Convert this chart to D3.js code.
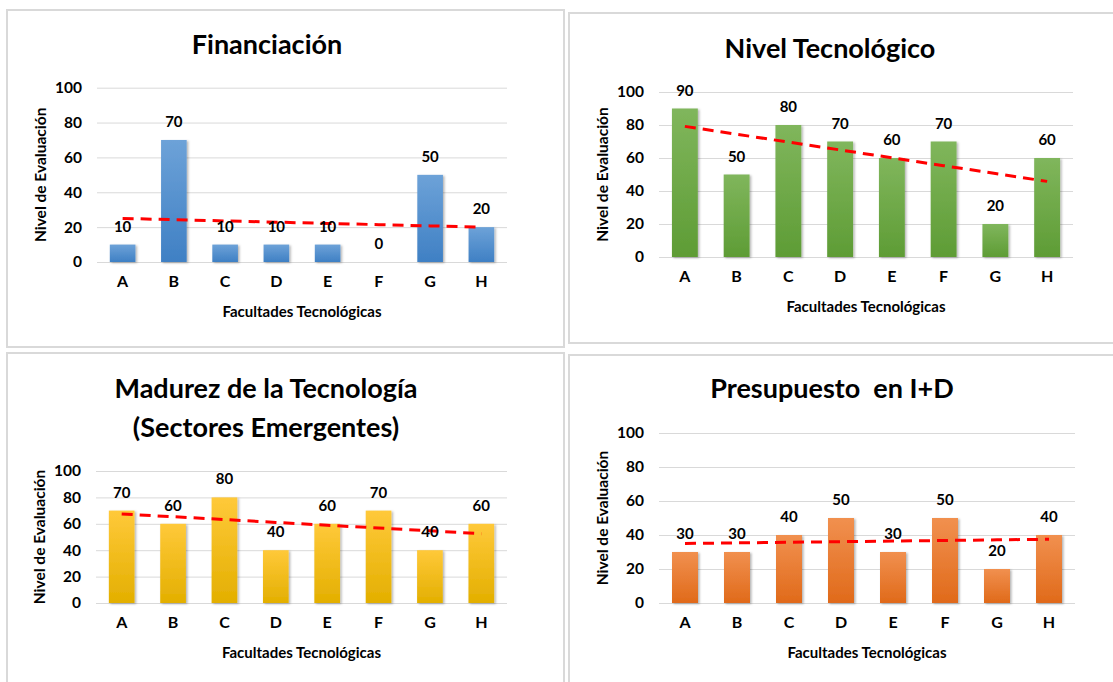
<!DOCTYPE html>
<html lang="es">
<head>
<meta charset="UTF-8">
<title>Facultades Tecnológicas</title>
<script src="https://cdn.jsdelivr.net/npm/d3@7"></script>
<style>
  body { margin: 0; background: #fff; }
  svg { display: block; font-family: Lato, "Open Sans", sans-serif; }
  .grid line { stroke: #d9d9d9; stroke-width: 1px; }
  .trend { fill: none; stroke: #ff0000; stroke-width: 3px; stroke-dasharray: 11 7; }
  .box { fill: #fff; stroke: #d9d9d9; stroke-width: 2px; }
</style>
</head>
<body>
<svg id="main" width="1113" height="682"></svg>
<script>
// data
var categories = ["A", "B", "C", "D", "E", "F", "G", "H"];
var yTicks = [0, 20, 40, 60, 80, 100];

var financiacion   = [10, 70, 10, 10, 10, 0, 50, 20];
var nivelTecno     = [90, 50, 80, 70, 60, 70, 20, 60];
var madurez        = [70, 60, 80, 40, 60, 70, 40, 60];
var presupuesto    = [30, 30, 40, 50, 30, 50, 20, 40];

var xTitle = "Facultades Tecnológicas";
var yTitle = "Nivel de Evaluación";

// layout of the four panels
var panels = [
  { title: ["Financiación"], values: financiacion, colors: ["#6da2d8", "#3f80c4"],
    box: [7, 10, 557, 337], plot: {l: 97, r: 507, t: 87.7, b: 262}, tx: 267, ty: 54 },
  { title: ["Nivel Tecnológico"], values: nivelTecno, colors: ["#80b65c", "#5e9c35"],
    box: [569, 13, 560, 330], plot: {l: 659, r: 1073, t: 92, b: 257}, tx: 830, ty: 58 },
  { title: ["Madurez de la Tecnología", "(Sectores Emergentes)"], values: madurez, colors: ["#ffc93a", "#e3af00"],
    box: [7, 353, 557, 340], plot: {l: 96, r: 507, t: 471, b: 603}, tx: 266, ty: 398 },
  { title: ["Presupuesto  en I+D"], values: presupuesto, colors: ["#f1904f", "#e06a1a"],
    box: [569, 355, 560, 340], plot: {l: 659, r: 1075, t: 433, b: 603}, tx: 832, ty: 398 }
];

var svg = d3.select("#main");
var defs = svg.append("defs");

var shadow = defs.append("filter").attr("id", "shadow")
    .attr("x", "-20%").attr("y", "-20%").attr("width", "150%").attr("height", "150%");
shadow.append("feDropShadow")
    .attr("dx", 1.5).attr("dy", 1).attr("stdDeviation", 1.2)
    .attr("flood-color", "#000").attr("flood-opacity", 0.3);

// least squares trend line, like the spreadsheet one
function trend(vals) {
  var n = vals.length, mx = (n + 1) / 2, my = d3.mean(vals);
  var sxy = 0, sxx = 0;
  vals.forEach(function(v, i) { sxy += (i + 1 - mx) * (v - my); sxx += (i + 1 - mx) * (i + 1 - mx); });
  var k = sxy / sxx;
  return vals.map(function(v, i) { return my + k * (i + 1 - mx); });
}

panels.forEach(function(p, pi) {
  var g = svg.append("g");

  g.append("rect").attr("class", "box")
    .attr("x", p.box[0]).attr("y", p.box[1])
    .attr("width", p.box[2]).attr("height", p.box[3]);

  var grad = defs.append("linearGradient").attr("id", "grad" + pi)
    .attr("x1", 0).attr("y1", 0).attr("x2", 0).attr("y2", 1);
  grad.append("stop").attr("offset", "0%").attr("stop-color", p.colors[0]);
  grad.append("stop").attr("offset", "100%").attr("stop-color", p.colors[1]);

  var x = d3.scaleBand().domain(categories)
    .range([p.plot.l, p.plot.r]).paddingInner(0.5).paddingOuter(0.25);
  var y = d3.scaleLinear().domain([0, 100]).range([p.plot.b, p.plot.t]);

  // title
  var title = g.append("text")
    .attr("x", p.tx).attr("y", p.ty)
    .attr("text-anchor", "middle")
    .style("font-size", "27px").style("font-weight", "bold").style("fill", "#000");
  p.title.forEach(function(t, i) {
    title.append("tspan").attr("x", p.tx).attr("dy", i === 0 ? 0 : 39)
      .attr("xml:space", "preserve").text(t);
  });

  // gridlines
  g.append("g").attr("class", "grid")
    .selectAll("line").data(yTicks).enter().append("line")
    .attr("x1", p.plot.l).attr("x2", p.plot.r)
    .attr("y1", function(d) { return y(d) + 0.5; })
    .attr("y2", function(d) { return y(d) + 0.5; });

  // y axis labels
  var yAxis = g.append("g")
    .attr("transform", "translate(" + p.plot.l + ",0)")
    .call(d3.axisLeft(y).tickValues(yTicks).tickSize(0).tickPadding(15));
  yAxis.select(".domain").remove();
  yAxis.selectAll("text")
    .style("font-family", "Lato, sans-serif").style("font-size", "15.5px")
    .style("font-weight", "bold").style("fill", "#000");

  // x axis labels
  var xAxis = g.append("g")
    .attr("transform", "translate(0," + p.plot.b + ")")
    .call(d3.axisBottom(x).tickSize(0).tickPadding(14));
  xAxis.select(".domain").remove();
  xAxis.selectAll("text")
    .style("font-family", "Lato, sans-serif").style("font-size", "16px")
    .style("font-weight", "bold").style("fill", "#000");

  // bars
  g.append("g").selectAll("rect")
    .data(p.values).enter().append("rect")
    .attr("x", function(d, i) { return x(categories[i]); })
    .attr("width", x.bandwidth())
    .attr("y", function(d) { return y(d); })
    .attr("height", function(d) { return y(0) - y(d); })
    .attr("fill", "url(#grad" + pi + ")")
    .attr("filter", "url(#shadow)");

  // trend line
  var tv = trend(p.values);
  var line = d3.line()
    .x(function(d, i) { return x(categories[i]) + x.bandwidth() / 2; })
    .y(function(d) { return y(d); });
  g.append("path").datum(tv).attr("class", "trend").attr("d", line);

  // data labels
  g.append("g").selectAll("text")
    .data(p.values).enter().append("text")
    .attr("x", function(d, i) { return x(categories[i]) + x.bandwidth() / 2; })
    .attr("y", function(d) { return y(d) - 13; })
    .attr("text-anchor", "middle")
    .style("font-size", "15px").style("font-weight", "bold").style("fill", "#000")
    .text(function(d) { return d; });

  // axis titles
  g.append("text")
    .attr("x", (p.plot.l + p.plot.r) / 2).attr("y", p.plot.b + 55)
    .attr("text-anchor", "middle")
    .style("font-size", "15px").style("font-weight", "bold").style("fill", "#000")
    .text(xTitle);

  g.append("text")
    .attr("transform", "translate(" + (p.plot.l - 51) + "," + ((p.plot.t + p.plot.b) / 2) + ") rotate(-90)")
    .attr("text-anchor", "middle")
    .style("font-size", "15.5px").style("font-weight", "bold").style("fill", "#000")
    .text(yTitle);
});
</script>
</body>
</html>
